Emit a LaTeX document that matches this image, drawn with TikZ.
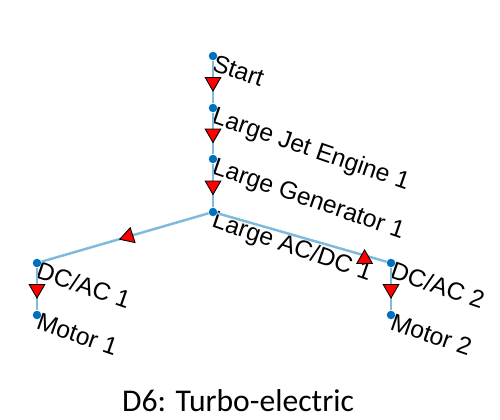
\documentclass[tikz,border=0pt]{standalone}
\usepackage{fontspec}
\setmainfont{Liberation Sans}
\newfontfamily\captionfont{Carlito}
\usetikzlibrary{positioning, shapes.geometric}

\definecolor{dotblue}{RGB}{0,114,189}
\definecolor{edgeblue}{RGB}{128,185,222}

\begin{document}
\begin{tikzpicture}[x=0.02cm, y=-0.02cm]
        \tikzset{vtx/.style={circle, fill=dotblue, minimum size=1.7mm, inner sep=0pt},
                 lbl/.style={rotate=-19, anchor=north west, inner sep=0.3pt, label distance=0pt, font=\fontsize{14}{16}\selectfont},
                 edge/.style={draw=edgeblue, line width=1.4pt},
                 tip/.style={regular polygon, regular polygon sides=3, fill=red, draw=black, line width=0.5pt, minimum size=3.6mm, inner sep=0pt}}
        \useasboundingbox (0,0) rectangle (500,419);

        \node[vtx, label={[lbl]45:Start}] (start) at (213,56) {};
        \node[vtx, label={[lbl]45:Large Jet Engine 1}] (engine) at (213,108) {};
        \node[vtx, label={[lbl]45:Large Generator 1}] (gen) at (213,159) {};
        \node[vtx, label={[lbl]45:Large AC/DC 1}] (acdc) at (213,212) {};
        \node[vtx, label={[lbl]45:DC/AC 1}] (dcac1) at (37,263) {};
        \node[vtx, label={[lbl]45:Motor 1}] (motor1) at (37,315) {};
        \node[vtx, label={[lbl]45:DC/AC 2}] (dcac2) at (391,263) {};
        \node[vtx, label={[lbl]45:Motor 2}] (motor2) at (391,315) {};

        \draw[edge] (start) -- node[tip, rotate=180] {} (engine);
        \draw[edge] (engine) -- node[tip, rotate=180] {} (gen);
        \draw[edge] (gen) -- node[tip, rotate=180] {} (acdc);
        \draw[edge] (acdc) -- node[tip, rotate=-12, pos=0.48] {} (dcac1);
        \draw[edge] (acdc) -- node[tip, pos=0.87, yshift=-2pt] {} (dcac2);
        \draw[edge] (dcac1) -- node[tip, rotate=180] {} (motor1);
        \draw[edge] (dcac2) -- node[tip, rotate=180] {} (motor2);

        \node[font=\captionfont\fontsize{18}{22}\selectfont] (caption) at (238,401) {D6: Turbo-electric};
\end{tikzpicture}
\end{document}
